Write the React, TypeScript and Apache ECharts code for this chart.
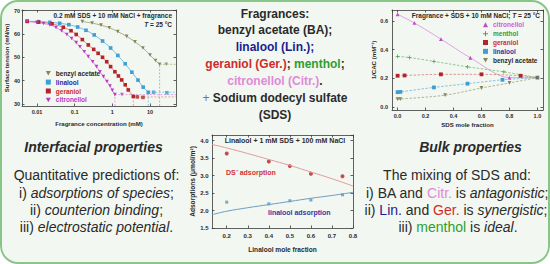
import React, { useEffect, useRef } from "react";
import * as echarts from "echarts";

const FONT = '"Liberation Sans", Arial, Helvetica, sans-serif';
const AXIS_COLOR = "#3a3a3a";
const DARK = "#2a2a2a";

// ---------- Panel A: surface tension vs fragrance concentration ----------
const baConc = [0.16, 0.29, 0.5, 0.83, 1.4, 2.4, 4, 6.5, 10, 14, 18];
const baTension = [65.3, 64.7, 63.8, 62.7, 61.0, 59.0, 56.6, 54.0, 51.0, 48.6, 47.0];
const linConc = [0.0055, 0.011, 0.022, 0.04, 0.07, 0.12, 0.2, 0.33, 0.55, 0.9, 1.4, 2.2, 3.3, 4.8, 6.6, 9];
const linTension = [65.5, 65.3, 65.0, 64.6, 64.0, 63.0, 61.6, 59.6, 57.0, 54.0, 50.8, 47.2, 43.6, 40.2, 37.2, 35.0];
const gerConc = [0.0055, 0.011, 0.025, 0.05, 0.08, 0.11, 0.16, 0.23, 0.32, 0.42, 0.55, 0.71, 0.9, 1.17, 1.45, 1.77, 2.2, 2.65, 3.6];
const gerTension = [65.4, 65.1, 64.4, 62.9, 61.4, 59.8, 57.6, 55.3, 53.4, 51.7, 50.0, 48.1, 46.0, 43.8, 42.0, 40.3, 38.2, 36.0, 33.2];
const citConc = [0.0055, 0.0098, 0.015, 0.022, 0.032, 0.045, 0.062, 0.083, 0.11, 0.138, 0.18, 0.23, 0.3, 0.38, 0.47, 0.58, 0.72, 0.87, 1.0, 1.17];
const citTension = [65.4, 64.9, 64.5, 63.9, 62.8, 61.4, 59.8, 58.1, 56.3, 54.5, 52.4, 50.3, 48.1, 46.0, 43.8, 41.7, 39.6, 37.7, 35.8, 34.0];
// CMC (end of each curve) and plateau points above the CMC
const cmcConc = [18, 9, 3.6, 1.17];
const cmcTension = [47, 35, 33, 34];
const baPlatConc = [27];
const baPlatTension = [47];
const linPlatConc = [12.5, 28];
const linPlatTension = [35, 34.8];
const gerPlatConc = [4.6, 6.5];
const gerPlatTension = [33, 32.8];
const citPlatConc = [1.8];
const citPlatTension = [34];

// ---------- Panel B: adsorptions vs linalool mole fraction ----------
const linFrac = [0.2, 0.4, 0.5, 0.6, 0.75];
const dsAds = [3.63, 3.4, 3.27, 3.05, 2.98];
const linAds = [2.24, 2.19, 2.28, 2.3, 2.45];
const fitFrac = [0.13, 0.2, 0.3, 0.4, 0.5, 0.6, 0.7, 0.8];
const dsFit = [3.89, 3.79, 3.63, 3.46, 3.29, 3.1, 2.91, 2.7];
const linFit = [1.88, 1.98, 2.08, 2.17, 2.26, 2.35, 2.43, 2.52];

// ---------- Panel C: 1/CAC vs SDS mole fraction ----------
const citFrac = [0, 0.12, 0.31, 0.52, 0.8];
const citInv = [0.645, 0.585, 0.473, 0.343, 0.205];
const menFrac = [0, 0.085, 0.26, 0.5, 0.76];
const menInv = [0.352, 0.345, 0.318, 0.28, 0.245];
const gerFrac = [0, 0.05, 0.31, 0.6, 0.88];
const gerInv = [0.218, 0.22, 0.228, 0.228, 0.218];
const linFracC = [0, 0.02, 0.26, 0.5, 0.75];
const linInv = [0.104, 0.106, 0.137, 0.163, 0.19];
const baFrac = [0, 0.02, 0.34, 0.6, 0.8];
const baInv = [0.055, 0.056, 0.083, 0.133, 0.168];
const sdsPoint = [1, 0.205];

const TRI_DOWN = "path://M0,0L10,0L5,9Z";
const CROSS = "path://M4,0H6V4H10V6H6V10H4V6H0V4H4Z";

const C = {
  baM: "#85855a", baL: "#a5a57c",
  linM: "#3d9fd6", linL: "#6cb6de",
  gerM: "#b3242a", gerL: "#e07b7b",
  citM: "#b63cc2", citL: "#d786da",
  menM: "#43a843", menL: "#72bf72",
};

const pairs = (xs: number[], ys: number[]) => xs.map((x, i) => [x, ys[i]]);

const TX = [0.004, 49];
const TY = [29.1, 70.3];

function tensionSeries(name: string, conc: number[], ten: number[], k: number, pc: number[], pt: number[], symbol: string, m: string, l: string) {
  const dash = [2, 1.5];
  return [
    { type: "line", name, xAxisIndex: 0, yAxisIndex: 0, data: pairs(conc, ten), smooth: 0.3, symbol, symbolSize: 3.6, lineStyle: { color: l, width: 0.9 }, itemStyle: { color: m }, z: 4 },
    { type: "line", name: name + " plateau", xAxisIndex: 0, yAxisIndex: 0, data: [[cmcConc[k], cmcTension[k]], [TX[1], cmcTension[k]]], symbol: "none", lineStyle: { color: l, width: 0.7, type: dash }, z: 3 },
    { type: "line", name: name + " cmc", xAxisIndex: 0, yAxisIndex: 0, data: [[cmcConc[k], TY[0]], [cmcConc[k], cmcTension[k]]], symbol: "none", lineStyle: { color: l, width: 0.7, type: dash }, z: 3 },
    { type: "scatter", name: name + " above cmc", xAxisIndex: 0, yAxisIndex: 0, data: pairs(pc, pt), symbol, symbolSize: 3.6, itemStyle: { color: m }, z: 4 },
  ];
}

function cacSeries(name: string, xs: number[], ys: number[], symbol: string, m: string, l: string, dashed: boolean) {
  return {
    type: "line", name, xAxisIndex: 4, yAxisIndex: 4,
    data: [...pairs(xs, ys), { value: sdsPoint, symbol: "none" }],
    smooth: 0.3, symbol, symbolSize: 3.8,
    lineStyle: { color: l, width: 0.8, type: dashed ? [2.5, 1.5] : "solid" },
    itemStyle: { color: m }, z: 4,
  };
}

function axis(fs: number, extra: any) {
  return {
    axisLine: { onZero: false, lineStyle: { color: AXIS_COLOR, width: 0.8 } },
    axisTick: { inside: true, length: 2.5, lineStyle: { color: AXIS_COLOR, width: 0.8 } },
    splitLine: { show: false },
    nameLocation: "middle",
    nameTextStyle: { fontSize: fs + 0.6, fontWeight: "bold", fontFamily: FONT, color: DARK },
    ...extra,
    axisLabel: { fontSize: fs, fontWeight: "bold", fontFamily: FONT, color: DARK, margin: 3, showMinLabel: false, showMaxLabel: false, ...(extra.axisLabel || {}) },
  };
}
function mirror(base: any, position: string) {
  return { ...base, position, name: "", axisLabel: { show: false } };
}

type Seg = { t: string; c?: string; i?: boolean; w?: string };
function textEl(x: number, y: number, segs: Seg[], size: number, align = "center", weight = "bold") {
  const rich: any = {};
  let text = "";
  segs.forEach((s, i) => {
    const k = "s" + i;
    text += `{${k}|${s.t}}`;
    rich[k] = { fill: s.c || DARK, fontSize: size, fontWeight: s.w || weight, fontStyle: s.i ? "italic" : "normal", fontFamily: FONT };
  });
  return {
    type: "text", x, y, silent: true, z: 10,
    style: { text, rich, fontSize: size, fontFamily: FONT, fontWeight: weight, fill: DARK, align, textAlign: align, verticalAlign: "middle", textVerticalAlign: "middle" },
  };
}

const T_BLUE = "#1d1d8f";
const T_RED = "#d12a2a";
const T_GREEN = "#2f9d2f";
const T_PINK = "#e08ad8";

function buildOption() {
  const x0 = axis(5.5, { type: "log", gridIndex: 0, min: TX[0], max: TX[1], name: "Fragrance concentration (mM)", nameGap: 14, axisLabel: { formatter: (v: number) => String(+Number(v).toPrecision(3)) } });
  const y0 = axis(5.5, { type: "value", gridIndex: 0, min: TY[0], max: TY[1], name: "Surface tension (mN/m)", nameGap: 11, axisLabel: { margin: 2 } });
  const x1 = axis(6, { type: "value", gridIndex: 1, min: 0.13, max: 0.8, name: "Linalool mole fraction", nameGap: 18, axisLabel: { margin: 5, showMaxLabel: true, formatter: (v: number) => v.toFixed(1) } });
  const y1 = axis(6, { type: "value", gridIndex: 1, min: 1.5, max: 4.16, name: "Adsorptions (\u03bcmol/m\u00b2)", nameGap: 13, axisLabel: { margin: 3.5, showMinLabel: true, formatter: (v: number) => v.toFixed(1) } });
  const x2 = axis(5.5, { type: "value", gridIndex: 2, min: -0.04, max: 1.04, name: "SDS mole fraction", nameGap: 11, axisLabel: { margin: 2.5, formatter: (v: number) => v.toFixed(1) } });
  const y2 = axis(5.5, { type: "value", gridIndex: 2, min: -0.02, max: 0.675, splitNumber: 3, name: "1/CAC (mM\u207b\u00b9)", nameGap: 11, axisLabel: { margin: 4, formatter: (v: number) => v.toFixed(1) } });

  const series: any[] = [
    ...tensionSeries("benzyl acetate", baConc, baTension, 0, baPlatConc, baPlatTension, TRI_DOWN, C.baM, C.baL),
    ...tensionSeries("linalool", linConc, linTension, 1, linPlatConc, linPlatTension, "rect", C.linM, C.linL),
    ...tensionSeries("geraniol", gerConc, gerTension, 2, gerPlatConc, gerPlatTension, "rect", C.gerM, C.gerL),
    ...tensionSeries("citronellol", citConc, citTension, 3, citPlatConc, citPlatTension, TRI_DOWN, C.citM, C.citL),
    { type: "line", name: "DS fit", xAxisIndex: 2, yAxisIndex: 2, data: pairs(fitFrac, dsFit), smooth: 0.4, symbol: "none", lineStyle: { color: "#e29a9a", width: 1 } },
    { type: "line", name: "Lin fit", xAxisIndex: 2, yAxisIndex: 2, data: pairs(fitFrac, linFit), smooth: 0.4, symbol: "none", lineStyle: { color: "#6f9dc2", width: 1 } },
    { type: "scatter", name: "DS ads", xAxisIndex: 2, yAxisIndex: 2, data: pairs(linFrac, dsAds), symbol: "circle", symbolSize: 4, itemStyle: { color: "#b82022" } },
    { type: "scatter", name: "Lin ads", xAxisIndex: 2, yAxisIndex: 2, data: pairs(linFrac, linAds), symbol: "rect", symbolSize: 3, itemStyle: { color: "#5f93b6" } },
    cacSeries("citronellol", citFrac, citInv, "triangle", "#c24cc8", "#d88fdc", false),
    cacSeries("menthol", menFrac, menInv, CROSS, C.menM, C.menL, true),
    cacSeries("geraniol", gerFrac, gerInv, "rect", C.gerM, C.gerL, true),
    cacSeries("linalool", linFracC, linInv, "rect", C.linM, C.linL, true),
    cacSeries("benzyl acetate", baFrac, baInv, TRI_DOWN, C.baM, C.baL, true),
    { type: "scatter", name: "SDS", xAxisIndex: 4, yAxisIndex: 4, data: [sdsPoint], symbol: "rect", symbolSize: 3.8, itemStyle: { color: "#555" }, z: 5 },
  ];

  const legendText = (fs: number) => ({ fontSize: fs, fontWeight: "bold", fontFamily: FONT, lineHeight: 6 });
  const li = (name: string, icon: string, color: string, text: string) => ({ name, icon, itemStyle: { color, borderWidth: 0 }, textStyle: { color: text } });

  const CX = 275;
  const cy = (i: number) => 13.5 + 16.9 * i;
  const LX = 96.5;
  const RX = 457;

  const elements: any[] = [
    textEl(172, 15, [{ t: "0.2 mM SDS + 10 mM NaCl + fragrance" }], 6.5, "right"),
    textEl(172, 24.5, [{ t: "T", i: true }, { t: " = 25 \u00b0C" }], 6.5, "right"),
    textEl(540, 15, [{ t: "Fragrance + SDS + 10 mM NaCl; " }, { t: "T", i: true }, { t: " = 25 \u00b0C" }], 6.5, "right"),
    textEl(285, 140.5, [{ t: "Linalool + 1 mM SDS + 100 mM NaCl" }], 7),
    textEl(226, 172, [{ t: "DS\u207b adsorption", c: "#cf3333" }], 7, "left"),
    textEl(268, 212.3, [{ t: "linalool adsorption", c: "#3636a6" }], 7, "left"),

    textEl(CX, cy(0), [{ t: "Fragrances:" }], 12),
    textEl(CX, cy(1), [{ t: "benzyl acetate (BA);" }], 12),
    textEl(CX, cy(2), [{ t: "linalool (Lin.);", c: T_BLUE }], 12),
    textEl(CX, cy(3), [{ t: "geraniol (Ger.)", c: T_RED }, { t: "; " }, { t: "menthol", c: T_GREEN }, { t: ";" }], 12),
    textEl(CX, cy(4), [{ t: "citronellol (Citr.)", c: T_PINK }, { t: "." }], 12),
    textEl(CX, cy(5), [{ t: "+ ", c: "#777", w: "normal" }, { t: "Sodium dodecyl sulfate" }], 12),
    textEl(CX, cy(6), [{ t: "(SDS)" }], 12),

    textEl(93.5, 146.7, [{ t: "Interfacial properties", i: true }], 14),
    textEl(LX, 175, [{ t: "Quantitative predictions of:" }], 14, "center", "normal"),
    textEl(LX, 193, [{ t: "i) " }, { t: "adsorptions of species", i: true }, { t: ";" }], 14, "center", "normal"),
    textEl(LX, 210, [{ t: "ii) " }, { t: "counterion binding", i: true }, { t: ";" }], 14, "center", "normal"),
    textEl(LX, 227, [{ t: "iii) " }, { t: "electrostatic potential", i: true }, { t: "." }], 14, "center", "normal"),

    textEl(470.5, 146.7, [{ t: "Bulk properties", i: true }], 14),
    textEl(RX, 175, [{ t: "The mixing of SDS and:" }], 14, "center", "normal"),
    textEl(RX, 193, [{ t: "i) BA and " }, { t: "Citr.", c: T_PINK }, { t: " is " }, { t: "antagonistic", i: true }, { t: ";" }], 14, "center", "normal"),
    textEl(RX - 1, 210, [{ t: "ii) " }, { t: "Lin.", c: T_BLUE }, { t: " and " }, { t: "Ger.", c: T_RED }, { t: " is " }, { t: "synergistic", i: true }, { t: ";" }], 14, "center", "normal"),
    textEl(RX + 1, 227, [{ t: "iii) " }, { t: "menthol", c: T_GREEN }, { t: " is " }, { t: "ideal", i: true }, { t: "." }], 14, "center", "normal"),
  ];

  return {
    animation: false,
    backgroundColor: "transparent",
    textStyle: { fontFamily: FONT },
    grid: [
      { left: 22, top: 10, width: 154, height: 96, containLabel: false, outerBoundsMode: "none" },
      { left: 212, top: 135, width: 141, height: 93, containLabel: false, outerBoundsMode: "none" },
      { left: 392, top: 10, width: 151, height: 100, containLabel: false, outerBoundsMode: "none" },
    ],
    xAxis: [x0, mirror(x0, "top"), x1, mirror(x1, "top"), x2, mirror(x2, "top")],
    yAxis: [y0, mirror(y0, "right"), y1, mirror(y1, "right"), y2, mirror(y2, "right")],
    legend: [
      {
        left: 45.8, top: 69.7, orient: "vertical", itemWidth: 5, itemHeight: 5, itemGap: 1.9, padding: 0, selectedMode: false,
        textStyle: legendText(6.5),
        data: [
          li("benzyl acetate", TRI_DOWN, C.baM, DARK),
          li("linalool", "rect", C.linM, "#2a2aa8"),
          li("geraniol", "rect", C.gerM, "#cc2a2a"),
          li("citronellol", TRI_DOWN, C.citM, "#c235c8"),
        ],
      },
      {
        left: 483, top: 21.3, orient: "vertical", itemWidth: 5, itemHeight: 5, itemGap: 1.85, padding: 0, selectedMode: false,
        textStyle: legendText(6.5),
        data: [
          li("citronellol", "triangle", "#c24cc8", "#d55ad8"),
          li("menthol", CROSS, C.menM, "#3a9a3a"),
          li("geraniol", "rect", C.gerM, "#cc3030"),
          li("linalool", "rect", C.linM, "#3030a8"),
          li("benzyl acetate", TRI_DOWN, C.baM, DARK),
        ],
      },
    ],
    series,
    graphic: { elements },
  };
}

export default function App() {
  const ref = useRef<HTMLDivElement>(null);
  useEffect(() => {
    if (!ref.current) return;
    const chart = echarts.init(ref.current, null, { renderer: "svg" });
    chart.setOption(buildOption() as any);
    return () => chart.dispose();
  }, []);
  return (
    <div style={{ position: "fixed", left: 0, top: 0, width: 550, height: 264, background: "#ffffff", overflow: "hidden" }}>
      <div style={{ position: "absolute", left: 0, top: 0, width: 550, height: 264, boxSizing: "border-box", border: "2px solid #88c688", borderRadius: 18, background: "#f2f7f1" }} />
      <div ref={ref} style={{ position: "absolute", left: 0, top: 0, width: 550, height: 264 }} />
    </div>
  );
}
